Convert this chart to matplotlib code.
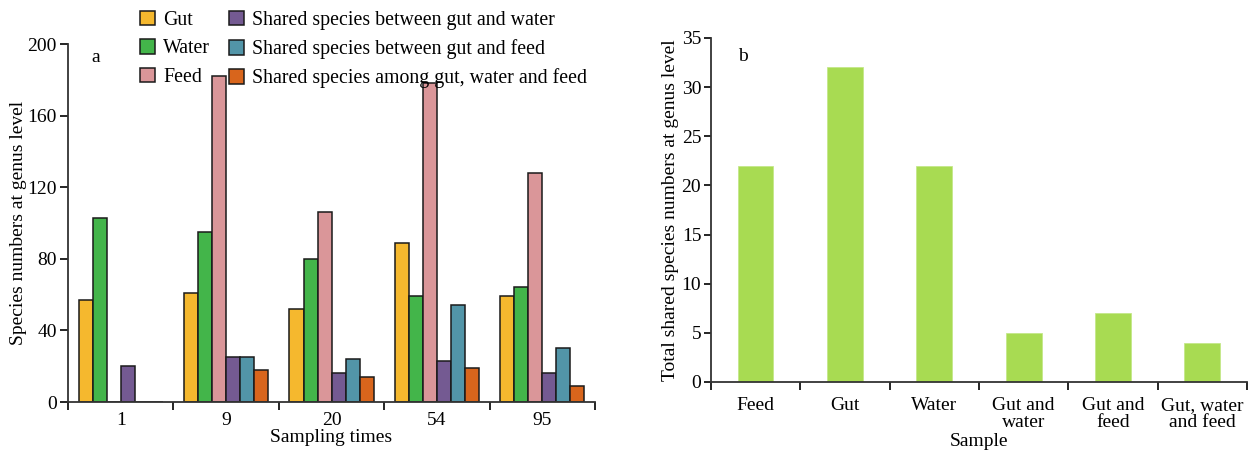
import matplotlib
matplotlib.use('Agg')
import matplotlib.pyplot as plt
import numpy as np

plt.rcParams['font.family'] = ['Liberation Serif', 'DejaVu Serif']
plt.rcParams['font.size'] = 14

# panel a: species numbers per sampling time
sampling_times = ['1', '9', '20', '54', '95']
gut = [57, 61, 52, 89, 59]
water = [103, 95, 80, 59, 64]
feed = [0, 182, 106, 178, 128]
gut_water = [20, 25, 16, 23, 16]
gut_feed = [0, 25, 24, 54, 30]
gut_water_feed = [0, 18, 14, 19, 9]

series_labels = ['Gut', 'Water', 'Feed',
                 'Shared species between gut and water',
                 'Shared species between gut and feed',
                 'Shared species among gut, water and feed']
series_colors = ['#f5b82e', '#43b54a', '#da9699', '#745a92', '#5295a8', '#d8651c']

# panel b: total shared species
samples = ['Feed', 'Gut', 'Water', 'Gut and\nwater', 'Gut and\nfeed', 'Gut, water\nand feed']
shared_totals = [22, 32, 22, 5, 7, 4]

fig = plt.figure(figsize=(12.53, 4.54), dpi=100)
ax1 = fig.add_axes([0.0543, 0.1145, 0.4206, 0.7885])
ax2 = fig.add_axes([0.5674, 0.1586, 0.4278, 0.7577])

# --- panel a ---
x = np.arange(len(sampling_times))
width = 0.133
all_series = [gut, water, feed, gut_water, gut_feed, gut_water_feed]
handles = []
for i, (vals, col, lab) in enumerate(zip(all_series, series_colors, series_labels)):
    b = ax1.bar(x + (i - 2.5) * width, vals, width, color=col, edgecolor='#1a1a1a',
                linewidth=1.1, label=lab)
    handles.append(b)

ax1.set_xlim(-0.5, len(sampling_times) - 0.5)
ax1.set_ylim(0, 200)
ax1.set_yticks(range(0, 201, 40))
ax1.set_xticks(x)
ax1.set_xticklabels(sampling_times)
ax1.set_xticks(np.arange(-0.5, len(sampling_times)), minor=True)
ax1.tick_params(axis='x', which='major', length=0, pad=7)
ax1.tick_params(axis='x', which='minor', length=6, width=1.2, direction='out')
ax1.tick_params(axis='y', length=6, width=1.2, direction='out', pad=2)
ax1.set_xlabel('Sampling times', labelpad=0)
ax1.set_ylabel('Species numbers at genus level', labelpad=0)
for side in ['top', 'right']:
    ax1.spines[side].set_visible(False)
for side in ['left', 'bottom']:
    ax1.spines[side].set_linewidth(1.3)
    ax1.spines[side].set_color('#333333')
ax1.text(0.045, 0.985, 'a', transform=ax1.transAxes, fontsize=14, va='top')

fig.legend(handles=handles, labels=series_labels, ncol=2, loc='upper left',
           bbox_to_anchor=(0.1032, 1.0), frameon=False, handlelength=0.75,
           handleheight=0.75, handletextpad=0.4, columnspacing=0.95,
           labelspacing=0.46, borderpad=0.05, fontsize=14.3)

# --- panel b ---
xb = np.arange(len(samples))
ax2.bar(xb, shared_totals, 0.4, color='#a8db52', edgecolor='#c4e88a', linewidth=0.6)
ax2.set_xlim(-0.5, len(samples) - 0.5)
ax2.set_ylim(0, 35)
ax2.set_yticks(range(0, 36, 5))
ax2.set_xticks(xb)
ax2.set_xticklabels(samples, linespacing=1.0)
ax2.set_xticks(np.arange(-0.5, len(samples)), minor=True)
ax2.tick_params(axis='x', which='major', length=0, pad=11)
ax2.tick_params(axis='x', which='minor', length=6, width=1.2, direction='out')
ax2.tick_params(axis='y', length=5, width=1.2, direction='out', pad=2)
ax2.set_xlabel('Sample', labelpad=1)
ax2.set_ylabel('Total shared species numbers at genus level', labelpad=2, fontsize=14)
for side in ['top', 'right']:
    ax2.spines[side].set_visible(False)
for side in ['left', 'bottom']:
    ax2.spines[side].set_linewidth(1.3)
    ax2.spines[side].set_color('#333333')
ax2.text(0.05, 0.97, 'b', transform=ax2.transAxes, fontsize=14, va='top')

fig.savefig('out.png', dpi=100)
